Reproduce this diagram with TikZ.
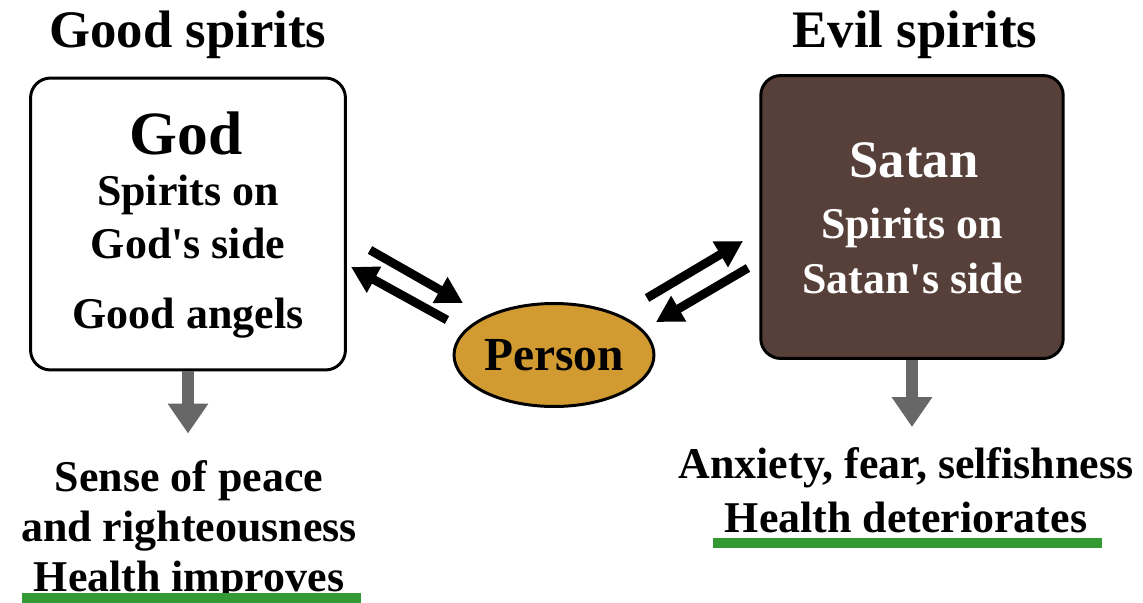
\documentclass[tikz,border=0pt]{standalone}
\usepackage{fontspec}
\setmainfont{Liberation Serif}
\usetikzlibrary{arrows.meta, positioning, shapes.geometric}
\definecolor{satanfill}{HTML}{574039}
\definecolor{personfill}{HTML}{D29B32}
\definecolor{effectgray}{HTML}{676767}
\definecolor{healthline}{HTML}{339933}

\begin{document}
\begin{tikzpicture}[
        x=0.02cm, y=-0.02cm,
        spiritbox/.style={
            draw,
            line width=1.7pt,
            rounded corners=0.4cm,
            minimum width=6.2cm,
            inner sep=0pt
        },
        heading/.style={font=\fontsize{30}{34}\selectfont\bfseries},
        boxtext/.style={font=\fontsize{25}{28}\selectfont\bfseries, inner sep=0pt},
        bodytext/.style={font=\fontsize{25}{28.5}\selectfont\bfseries, align=center, inner sep=0pt},
        exchange/.style={-{Triangle[length=15pt, width=16pt]}, line width=5pt},
        effect/.style={-{Triangle[length=17pt, width=22pt]}, line width=6.8pt, effectgray},
        underline/.style={line width=5.5pt, healthline}
    ]
        \useasboundingbox (0,0) rectangle (1143,602);

        % the two sides
        \node[spiritbox, fill=white, minimum width=6.3cm, minimum height=5.84cm] (god) at (188,224) {};
        \node[spiritbox, fill=satanfill, minimum width=6.05cm, minimum height=5.66cm] (satan) at (912,217) {};
        \node[heading] (goodtitle) at (188,35) {Good spirits};
        \node[heading] (eviltitle) at (915,35) {Evil spirits};

        \node[boxtext, font=\fontsize{35}{38}\selectfont\bfseries] (godname) at (186,133) {God};
        \node[boxtext] (godspirits) at (188,195) {Spirits on};
        \node[boxtext] (godside) at (188,243) {God\textquotesingle s side};
        \node[boxtext] (angels) at (188,318) {Good angels};

        \node[boxtext, text=white, font=\fontsize{30}{34}\selectfont\bfseries] (satanname) at (914,160) {Satan};
        \node[boxtext, text=white] (satanspirits) at (912,228) {Spirits on};
        \node[boxtext, text=white] (satanside) at (913,278) {Satan\textquotesingle s side};

        % the person in the middle
        \node[ellipse, draw, line width=1.7pt, fill=personfill, inner sep=0pt, minimum width=4.0cm,
            minimum height=2.06cm, font=\fontsize{27}{30}\selectfont\bfseries] (person) at (554,355) {Person};

        \coordinate (goodout) at (370,250);
        \coordinate (goodin) at (463,303);
        \coordinate (goodback) at (447,320);
        \coordinate (goodtip) at (351,267);
        \coordinate (evilout) at (647,298);
        \coordinate (evilin) at (743,241);
        \coordinate (evilback) at (748,268);
        \coordinate (eviltip) at (656,322);

        \draw[exchange] (goodout) -- (goodin);
        \draw[exchange] (goodback) -- (goodtip);
        \draw[exchange] (evilout) -- (evilin);
        \draw[exchange] (evilback) -- (eviltip);

        % what follows from each side
        \node[bodytext] (peace) at (189,531) {Sense of peace\\and righteousness\\Health improves};
        \node[bodytext, font=\fontsize{25}{30.5}\selectfont\bfseries] (anxiety) at (906,490) {Anxiety, fear, selfishness\\Health deteriorates};

        \draw[effect] (god.south) -- ++(0,62);
        \draw[effect] (satan.south) -- ++(0,67);

        \draw[underline] (22,598) -- (361,598);
        \draw[underline] (713,543) -- (1102,543);
    \end{tikzpicture}
\end{document}
